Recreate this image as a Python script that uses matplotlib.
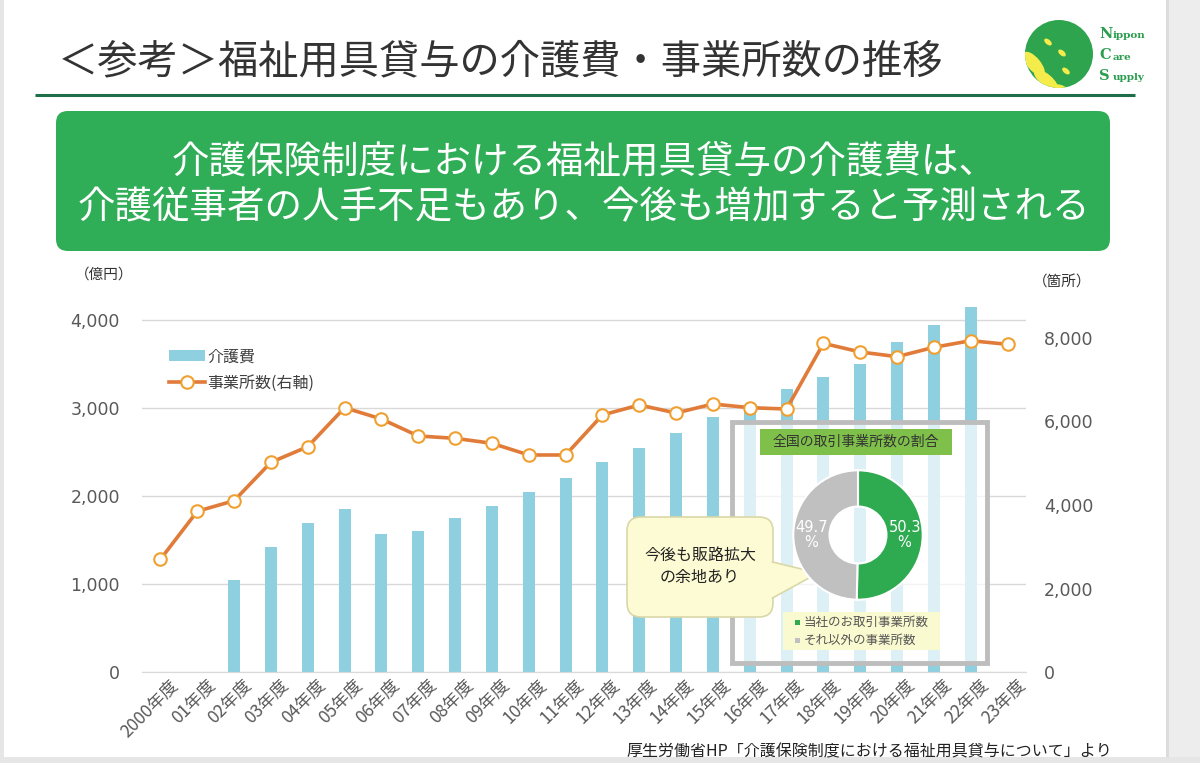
import numpy as np
import matplotlib
matplotlib.use("Agg")
import matplotlib.pyplot as plt
from matplotlib.patches import FancyBboxPatch, Rectangle, Polygon, Circle, Ellipse, Patch
from matplotlib.lines import Line2D
import matplotlib.transforms as mtransforms

plt.rcParams['font.family'] = ['Noto Sans CJK JP', 'DejaVu Sans']

# ---------------- data ----------------
years = ['2000年度', '01年度', '02年度', '03年度', '04年度', '05年度', '06年度', '07年度',
         '08年度', '09年度', '10年度', '11年度', '12年度', '13年度', '14年度', '15年度',
         '16年度', '17年度', '18年度', '19年度', '20年度', '21年度', '22年度', '23年度']
cost = [np.nan, np.nan, 1047, 1420, 1693, 1852, 1568, 1602, 1750, 1886, 2045, 2205,
        2386, 2545, 2716, 2898, 3034, 3216, 3356, 3500, 3746, 3943, 4144, np.nan]
offices = [2700, 3849, 4103, 5022, 5397, 6331, 6060, 5653, 5597, 5478, 5198, 5198,
           6156, 6395, 6204, 6419, 6331, 6299, 7872, 7665, 7553, 7777, 7936, 7848]
left_ticks = [0, 1000, 2000, 3000, 4000]
right_ticks = [0, 2000, 4000, 6000, 8000]
share_labels = ['当社のお取引事業所数', 'それ以外の事業所数']
share_values = [50.3, 49.7]
series_names = ['介護費', '事業所数(右軸)']

title = '＜参考＞福祉用具貸与の介護費・事業所数の推移'
banner = ['介護保険制度における福祉用具貸与の介護費は、',
          '介護従事者の人手不足もあり、今後も増加すると予測される']
callout = '今後も販路拡大\nの余地あり'
inset_title = '全国の取引事業所数の割合'
source = '厚生労働省HP「介護保険制度における福祉用具貸与について」より'

# ---------------- layout helpers ----------------
W, H = 1200, 763
fig = plt.figure(figsize=(12, 7.63), dpi=100)
fig.patch.set_facecolor('white')


def rect(x0, y0, x1, y1):
    return [x0 / W, 1 - y1 / H, (x1 - x0) / W, (y1 - y0) / H]


def overlay(z):
    a = fig.add_axes([0, 0, 1, 1], zorder=z)
    a.set_xlim(0, W)
    a.set_ylim(H, 0)
    a.axis('off')
    a.patch.set_alpha(0)
    return a


bg = overlay(0)

# slide edges
bg.add_patch(Rectangle((1168, 0), 32, H, fc='#ededed', ec='none'))
bg.add_patch(Rectangle((1166, 0), 3, H, fc='#dcdcdc', ec='none'))
bg.add_patch(Rectangle((0, 757), W, 6, fc='#e6e6e6', ec='none'))
bg.add_patch(Rectangle((0, 0), 4, H, fc='#e6e6e6', ec='none'))

# title
bg.text(58, 62, title, fontsize=29, color='#333333', ha='left', va='center')
bg.plot([35, 1135], [95, 95], color='#1f6e4a', lw=2.2, solid_capstyle='butt')

# logo
logo = Circle((1059, 54), 34, fc='#2ea44f', ec='none')
bg.add_patch(logo)
for (cx, cy, w, h, ang) in [(1034, 64, 30, 13, 50), (1046, 80, 30, 12, 40),
                            (1028, 80, 16, 10, 50), (1062, 89, 16, 7, 25),
                            (1048, 42, 9, 5, 40), (1062, 53, 9, 5, 40), (1066, 71, 9, 5, 40)]:
    e = Ellipse((cx, cy), w, h, angle=ang, fc='#f4ec4a', ec='none')
    bg.add_patch(e)
    e.set_clip_path(logo)
for i, (big, rest) in enumerate([('N', 'ippon'), ('C', 'are'), ('S', 'upply')]):
    y = 34 + i * 21
    bg.text(1099, y, big, fontsize=10.5, color='#2a9d4f', fontweight='bold',
            family='DejaVu Serif', ha='left', va='center')
    bg.text(1113, y + 2, rest, fontsize=7.5, color='#2a9d4f', fontweight='bold',
            family='DejaVu Serif', ha='left', va='center')

# banner
bg.add_patch(FancyBboxPatch((56 + 12, 111 + 12), 1054 - 24, 140 - 24,
                            boxstyle='round,pad=12', fc='#30ad57', ec='none'))
bg.text(584, 162, banner[0], fontsize=27, color='white', ha='center', va='center')
bg.text(584, 208, banner[1], fontsize=27, color='white', ha='center', va='center')

# units
bg.text(104, 275, '（億円）', fontsize=10.5, color='#333333', ha='center', va='center')
bg.text(1062, 283, '（箇所）', fontsize=10.5, color='#333333', ha='center', va='center')

# source
bg.text(1112, 752, source, fontsize=11.5, color='#222222', ha='right', va='center')

# ---------------- main chart ----------------
ax = fig.add_axes(rect(142, 295, 1026, 672), zorder=1)
ax.patch.set_alpha(0)
x = np.arange(len(years))
ax.bar(x, cost, width=0.33, color='#8ecfe0', zorder=2)
ax.set_xlim(-0.5, len(years) - 0.5)
ax.set_ylim(0, 377 / 0.088)
ax.set_yticks(left_ticks)
ax.set_yticklabels([f'{v:,}' for v in left_ticks], family='DejaVu Sans')
ax.grid(axis='y', color='#d9d9d9', lw=1, zorder=0)
ax.set_axisbelow(True)
for s in ['top', 'left', 'right']:
    ax.spines[s].set_visible(False)
ax.spines['bottom'].set_color('#d9d9d9')
ax.tick_params(axis='y', length=0, pad=16, labelsize=12.5, labelcolor='#595959')
ax.tick_params(axis='x', length=0, pad=3, labelsize=12.5, labelcolor='#595959')
ax.set_xticks(x)
ax.set_xticklabels(years, rotation=45, ha='right', rotation_mode='anchor')
offset = mtransforms.ScaledTranslation(9 / 100, 0, fig.dpi_scale_trans)
for lab in ax.get_xticklabels():
    lab.set_transform(lab.get_transform() + offset)

ax2 = ax.twinx()
ax2.set_zorder(2)
ax2.patch.set_alpha(0)
ax2.plot(x, offices, color='#e07b39', lw=2.6, marker='o', ms=9,
         mfc='white', mec='#f0a030', mew=1.5, zorder=3)
ax2.set_ylim(0, 377 / 0.04175)
ax2.set_yticks(right_ticks)
ax2.set_yticklabels([f'{v:,}' for v in right_ticks], family='DejaVu Sans')
for s in ['top', 'left', 'right', 'bottom']:
    ax2.spines[s].set_visible(False)
ax2.tick_params(axis='y', length=0, pad=13, labelsize=12.5, labelcolor='#595959')

handles = [Patch(fc='#8ecfe0', ec='none'),
           Line2D([], [], color='#e07b39', lw=2.6, marker='o', ms=9, mfc='white',
                  mec='#f0a030', mew=1.5)]
leg = ax2.legend(handles, series_names, loc='upper left',
                 bbox_to_anchor=(155 / W, 1 - 334 / H), bbox_transform=fig.transFigure,
                 frameon=False, fontsize=11.5, labelspacing=0.6, handlelength=2.2,
                 handletextpad=0.2)
for t in leg.get_texts():
    t.set_color('#404040')

# ---------------- overlays (inset & callout) ----------------
fg = overlay(5)
fg.add_patch(Rectangle((732, 422), 255, 241, fc='white', alpha=0.7, ec='none'))
fg.add_patch(Rectangle((732, 422), 255, 241, fc='none', ec='#bdbdbd', lw=3.5))
fg.add_patch(Rectangle((760, 429), 192, 26, fc='#7fc04a', ec='none'))
fg.text(856, 442, inset_title, fontsize=10, color='#333333', ha='center', va='center')

# inset legend
fg.add_patch(Rectangle((783, 612), 157, 38, fc='#fafad0', ec='none'))
pie_colors = ['#2eaa50', '#c0c0c0']
for i, (lab, col) in enumerate(zip(share_labels, pie_colors)):
    yy = 622 + i * 18
    fg.add_patch(Rectangle((795, yy - 2.5), 5, 5, fc=col, ec='none'))
    fg.text(804, yy, lab, fontsize=9, color='#555555', ha='left', va='center')

# callout
fg.add_patch(FancyBboxPatch((627 + 14, 517 + 14), 146 - 28, 100 - 28,
                            boxstyle='round,pad=14', fc='#fdfbd3', ec='#d9d8a8', lw=1.2))
fg.add_patch(Polygon([(772, 562), (818, 573), (772, 598)], closed=True,
                     fc='#fdfbd3', ec='none'))
fg.plot([772.5, 818, 772.5], [562, 573, 598], color='#d9d8a8', lw=1.2)
fg.text(700, 567, callout, fontsize=11.5, color='#222222', ha='center', va='center',
        linespacing=1.3)

# donut
axp = fig.add_axes(rect(858 - 66, 535 - 66, 858 + 66, 535 + 66), zorder=6)
wedges, texts, autotexts = axp.pie(
    share_values, colors=pie_colors, startangle=90, counterclock=False,
    wedgeprops=dict(width=0.56, edgecolor='white', linewidth=1.5),
    autopct=lambda p: f'{p:.1f}\n%', pctdistance=0.72,
    textprops=dict(color='white', fontsize=10.5, family='DejaVu Sans', linespacing=1.0))
axp.set_aspect('equal')
axp.set_xlim(-1.02, 1.02)
axp.set_ylim(-1.02, 1.02)

fig.savefig('out.png', dpi=100)
